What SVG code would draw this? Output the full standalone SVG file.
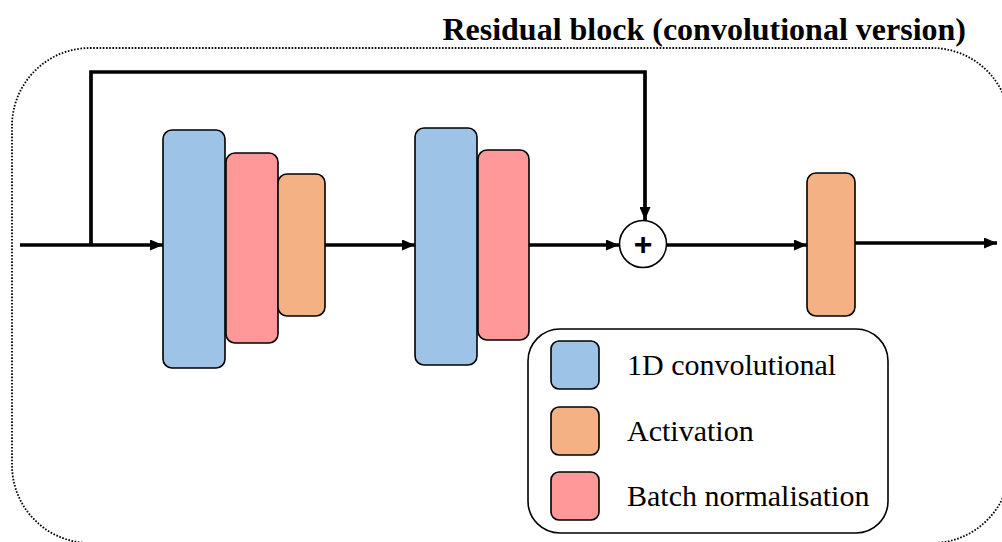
<svg xmlns="http://www.w3.org/2000/svg" width="1002" height="542" viewBox="0 0 1002 542">
<defs>
<style>
.blk{stroke:#000;stroke-width:1.6}
.conv{fill:#9DC3E6}
.act{fill:#F4B183}
.bn{fill:#FF9999}
.wire{fill:none;stroke:#000;stroke-width:3.7}
.lbl{font-family:"Liberation Serif","Times New Roman",serif;font-size:30px;fill:#000}
</style>
<marker id="arr" viewBox="0 0 13 11" refX="13" refY="5.5" markerWidth="13" markerHeight="11" markerUnits="userSpaceOnUse" orient="auto">
<path d="M0,0 L13,5.5 L0,11 Z" fill="#000"/>
</marker>
</defs>
<rect width="1002" height="542" fill="#fff"/>
<rect id="frame" x="12" y="48" width="998" height="495" rx="78" ry="78" fill="none" stroke="#000" stroke-width="1.8" stroke-dasharray="1.6 1.6"/>
<text id="title" x="966" y="40" text-anchor="end" style="font-family:'Liberation Serif','Times New Roman',serif;font-size:32px;font-weight:bold">Residual block (convolutional version)</text>
<g id="connectors">
<path class="wire" d="M20,245 H163" marker-end="url(#arr)"/>
<path class="wire" d="M91,245 V72 H645 V220" marker-end="url(#arr)"/>
<path class="wire" d="M325,245 H415" marker-end="url(#arr)"/>
<path class="wire" d="M529,245 H619" marker-end="url(#arr)"/>
<path class="wire" d="M667,245 H807" marker-end="url(#arr)"/>
<path class="wire" d="M855,243 H997" marker-end="url(#arr)"/>
</g>
<g id="conv1"><rect class="blk conv" x="163" y="130" width="62" height="238" rx="9"/></g>
<g id="bn1"><rect class="blk bn" x="226" y="153" width="52" height="190" rx="9"/></g>
<g id="act1"><rect class="blk act" x="278" y="174" width="47" height="142" rx="9"/></g>
<g id="conv2"><rect class="blk conv" x="415" y="128" width="62" height="237" rx="9"/></g>
<g id="bn2"><rect class="blk bn" x="478" y="150" width="51" height="190" rx="9"/></g>
<g id="add">
<circle cx="643" cy="244" r="23.5" fill="#fff" stroke="#000" stroke-width="1.6"/>
<text x="643" y="255" text-anchor="middle" style="font-family:'Liberation Sans',Arial,sans-serif;font-size:32px;font-weight:bold">+</text>
</g>
<g id="act2"><rect class="blk act" x="807" y="173" width="48" height="143" rx="9"/></g>
<g id="legend">
<rect x="528" y="329" width="360" height="204" rx="32" fill="#fff" stroke="#000" stroke-width="1.6"/>
<rect class="blk conv" x="551" y="341" width="48" height="48" rx="8"/>
<text class="lbl" x="627" y="375">1D convolutional</text>
<rect class="blk act" x="551" y="407" width="48" height="48" rx="8"/>
<text class="lbl" x="627" y="441">Activation</text>
<rect class="blk bn" x="551" y="472" width="48" height="48" rx="8"/>
<text class="lbl" x="627" y="506">Batch normalisation</text>
</g>
</svg>
